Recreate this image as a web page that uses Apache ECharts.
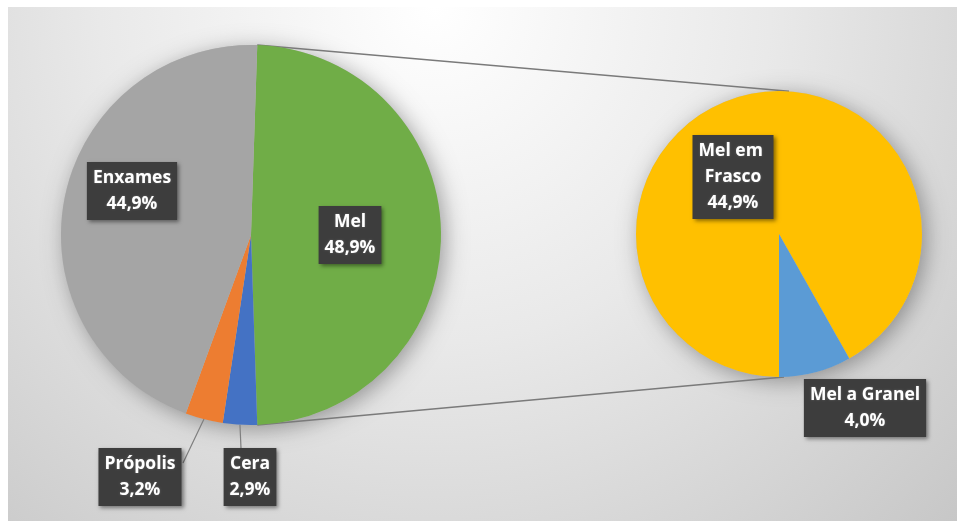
<!DOCTYPE html>
<html>
<head>
<meta charset="utf-8">
<script src="https://cdn.jsdelivr.net/npm/echarts@6/dist/echarts.min.js"></script>
<style>
html,body{margin:0;padding:0;background:#fff;}
#chart{width:961px;height:522px;}
</style>
</head>
<body>
<div id="chart"></div>
<script>
// ---- data ----
const leftNames = ['Mel', 'Cera', 'Própolis', 'Enxames'];
const leftValues = [48.9, 2.9, 3.2, 44.9];
const rightNames = ['Mel em Frasco', 'Mel a Granel'];
const rightValues = [44.9, 4.0];

// ---- styles / layout ----
const leftColors = ['#70AD47', '#4472C4', '#ED7D31', '#A5A5A5'];
const rightColors = ['#FFC000', '#5B9BD5'];
const C1 = [251, 235], R1 = 190;
const C2 = [779, 234], R2 = 143;
const FONT = '"Open Sans", sans-serif';
const labelPos = {
  'Enxames': [132, 191],
  'Mel': [350, 235],
  'Própolis': [140, 477],
  'Cera': [250, 477],
  'Mel em Frasco': [733, 177],
  'Mel a Granel': [865, 408]
};
const lineEnd = {
  'Própolis': [183, 463],
  'Cera': [241, 448]
};
const outside = { 'Própolis': true, 'Cera': true, 'Mel a Granel': true };

const leftTotal = leftValues.reduce((a, b) => a + b, 0);
const melAngle = 360 * leftValues[0] / leftTotal;
const leftStart = 90 - (180 - melAngle) / 2;

function pt(c, r, degFromTop) {
  const a = degFromTop * Math.PI / 180;
  return [c[0] + r * Math.sin(a), c[1] - r * Math.cos(a)];
}
const th1 = 90 - leftStart;
const th2 = th1 + melAngle;
const p1a = pt(C1, R1, th1), p1b = pt(C2, R2, 4);
const p2a = pt(C1, R1, th2), p2b = pt(C2, R2, 178);

const baseLabel = {
  show: true,
  color: '#ffffff',
  fontFamily: FONT,
  fontWeight: 'bold',
  fontSize: 17.5,
  lineHeight: 26,
  backgroundColor: '#3d3d3d',
  padding: [3, 6],
  align: 'center',
  verticalAlign: 'middle',
  shadowBlur: 4,
  shadowColor: 'rgba(0,0,0,0.45)',
  shadowOffsetX: 2,
  shadowOffsetY: 2,
  textShadowBlur: 2,
  textShadowColor: 'rgba(255,255,255,0.25)',
  formatter: p => p.name + '\n' + p.value.toFixed(1).replace('.', ',') + '%'
};

function buildData(names, values, colors) {
  return names.map((n, i) => {
    const item = {
      name: n,
      value: values[i],
      itemStyle: { color: colors[i] },
      label: { position: outside[n] ? 'outside' : 'inside' },
      labelLine: { show: !!lineEnd[n], length: 10, length2: 10, lineStyle: { color: '#7f7f7f', width: 1.2 } }
    };
    if (n === 'Mel em Frasco') {
      item.label.width = 69;
      item.label.overflow = 'break';
    }
    return item;
  });
}

function layoutFn(params) {
  const name = params.seriesIndex === 0 ? leftNames[params.dataIndex] : rightNames[params.dataIndex];
  const pos = labelPos[name];
  const res = { x: pos[0], y: pos[1], align: 'center', verticalAlign: 'middle' };
  if (lineEnd[name] && params.labelLinePoints) {
    const s = params.labelLinePoints[0];
    const e = lineEnd[name];
    res.labelLinePoints = [s, [(s[0] + e[0]) / 2, (s[1] + e[1]) / 2], e];
  }
  return res;
}

const chart = echarts.init(document.getElementById('chart'), null, { renderer: 'canvas' });
chart.setOption({
  animation: false,
  graphic: [
    {
      type: 'rect', z: -10, silent: true,
      shape: { x: 8, y: 7, width: 949, height: 514 },
      style: {
        fill: new echarts.graphic.RadialGradient(0.45, 0.0, 1.45, [
          { offset: 0, color: '#ffffff' },
          { offset: 0.45, color: '#e9e9e9' },
          { offset: 1, color: '#c6c6c6' }
        ])
      }
    },
    {
      type: 'circle', z: -5, silent: true,
      shape: { cx: C1[0], cy: C1[1], r: R1 },
      style: { fill: '#bbbbbb', shadowBlur: 22, shadowColor: 'rgba(0,0,0,0.35)', shadowOffsetX: 4, shadowOffsetY: 4 }
    },
    {
      type: 'circle', z: -5, silent: true,
      shape: { cx: C2[0], cy: C2[1], r: R2 },
      style: { fill: '#bbbbbb', shadowBlur: 22, shadowColor: 'rgba(0,0,0,0.35)', shadowOffsetX: 4, shadowOffsetY: 4 }
    },
    {
      type: 'line', z: -4, silent: true,
      shape: { x1: p1a[0], y1: p1a[1], x2: p1b[0], y2: p1b[1] },
      style: { stroke: '#7a7a7a', lineWidth: 1.5 }
    },
    {
      type: 'line', z: -4, silent: true,
      shape: { x1: p2a[0], y1: p2a[1], x2: p2b[0], y2: p2b[1] },
      style: { stroke: '#7a7a7a', lineWidth: 1.5 }
    }
  ],
  series: [
    {
      type: 'pie',
      center: C1,
      radius: R1,
      startAngle: leftStart,
      clockwise: true,
      avoidLabelOverlap: false,
      label: baseLabel,
      labelLayout: layoutFn,
      emphasis: { disabled: true },
      data: buildData(leftNames, leftValues, leftColors)
    },
    {
      type: 'pie',
      center: C2,
      radius: R2,
      startAngle: -90,
      clockwise: true,
      avoidLabelOverlap: false,
      label: baseLabel,
      labelLayout: layoutFn,
      emphasis: { disabled: true },
      data: buildData(rightNames, rightValues, rightColors)
    }
  ]
});
</script>
</body>
</html>
